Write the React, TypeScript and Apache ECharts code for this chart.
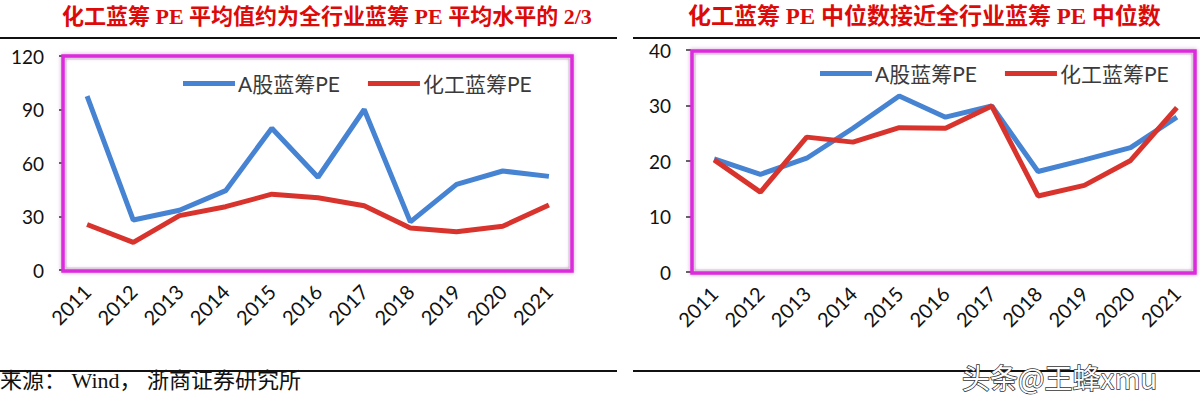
import React, { useEffect, useRef } from "react";
import * as echarts from "echarts";

const years = ["2011", "2012", "2013", "2014", "2015", "2016", "2017", "2018", "2019", "2020", "2021"];
const seriesNames = ["A股蓝筹PE", "化工蓝筹PE"];
// Left chart: average PE
const meanAShare = [97.5, 28, 33.5, 44.5, 79.5, 52, 90, 27, 48, 55.5, 52.5];
const meanChem = [25.5, 15.5, 30.5, 35.5, 42.5, 40.5, 36, 23.5, 21.5, 24.5, 36.5];
// Right chart: median PE
const medAShare = [20.4, 17.6, 20.5, 25.9, 31.7, 27.9, 29.9, 18.1, 20.2, 22.4, 27.9];
const medChem = [20.2, 14.4, 24.3, 23.4, 26.0, 25.9, 29.9, 13.7, 15.6, 20.1, 29.6];
const leftAxis = { min: 0, max: 120, interval: 30 };
const rightAxis = { min: 0, max: 40, interval: 10 };
const titles = [
  "化工蓝筹 PE 平均值约为全行业蓝筹 PE 平均水平的 2/3",
  "化工蓝筹 PE 中位数接近全行业蓝筹 PE 中位数",
];
const sourceText = "来源： Wind， 浙商证券研究所";
const watermark = "头条@王蜂xmu";

const BLUE = "#4683D3";
const RED = "#D8342D";
const MAGENTA = "#DC2ADC";
const LABEL_FONT = "Lato, 'Noto Sans CJK SC', sans-serif";

export default function App() {
  const ref = useRef<HTMLDivElement>(null);
  useEffect(() => {
    if (!ref.current) return;
    const chart = echarts.init(ref.current, null, { renderer: "svg" });
    const xAxisCommon = {
      type: "category",
      data: years,
      boundaryGap: true,
      axisLine: { show: false },
      axisTick: { show: false },
      axisLabel: { rotate: 45, margin: 18, fontSize: 20, color: "#111", fontFamily: LABEL_FONT },
      splitLine: { show: false },
    };
    const yAxisCommon = {
      type: "value",
      axisLine: { show: false },
      axisTick: { show: true, length: 5, lineStyle: { color: "#333", width: 1.5 } },
      axisLabel: { margin: 20, fontSize: 19, color: "#111", fontFamily: LABEL_FONT },
      splitLine: { show: false },
    };
    const legendCommon = {
      icon: "rect",
      itemWidth: 52,
      itemHeight: 5,
      itemGap: 28,
      padding: 0,
      textStyle: { fontSize: 21, color: "#3a3a3a", fontFamily: LABEL_FONT, padding: [0, 0, 0, -2] },
      data: seriesNames,
    };
    const lineSeries = (name: string, data: number[], idx: number, color: string) => ({
      type: "line",
      name,
      data,
      xAxisIndex: idx,
      yAxisIndex: idx,
      symbol: "none",
      lineStyle: { width: 5, color },
      itemStyle: { color },
      z: 3,
    });
    const sepLine = (x1: number, x2: number, y: number) => ({
      type: "line",
      shape: { x1, y1: y, x2, y2: y },
      style: { stroke: "#111", lineWidth: 2 },
    });
    const frame = (x: number, y: number, w: number, h: number) => [
      {
        type: "rect",
        shape: { x: x + 3, y: y + 3, width: w - 6, height: h - 6 },
        style: { fill: "none", stroke: "#d8d8d8", lineWidth: 1 },
        z: 1,
      },
      {
        type: "rect",
        shape: { x, y, width: w, height: h },
        style: {
          fill: "none",
          stroke: MAGENTA,
          lineWidth: 3.5,
          shadowBlur: 4,
          shadowColor: "rgba(120,0,120,0.35)",
        },
        z: 10,
      },
    ];
    chart.setOption({
      animation: false,
      backgroundColor: "#ffffff",
      grid: [
        { left: 64, top: 56, width: 508, height: 214 },
        { left: 691, top: 50, width: 520, height: 222 },
      ],
      xAxis: [
        { ...xAxisCommon, gridIndex: 0 },
        { ...xAxisCommon, gridIndex: 1 },
      ],
      yAxis: [
        { ...yAxisCommon, gridIndex: 0, ...leftAxis },
        { ...yAxisCommon, gridIndex: 1, ...rightAxis },
      ],
      legend: [
        { ...legendCommon, left: 183, top: 73 },
        { ...legendCommon, left: 820, top: 63 },
      ],
      series: [
        lineSeries(seriesNames[0], meanAShare, 0, BLUE),
        lineSeries(seriesNames[1], meanChem, 0, RED),
        lineSeries(seriesNames[0], medAShare, 1, BLUE),
        lineSeries(seriesNames[1], medChem, 1, RED),
      ],
      graphic: [
        {
          type: "text",
          left: 62,
          top: 5,
          style: {
            text: titles[0],
            fill: "#DD0A0A",
            font: "bold 22px 'Liberation Serif', 'Noto Sans CJK SC', serif",
          },
        },
        {
          type: "text",
          left: 688,
          top: 5,
          style: {
            text: titles[1],
            fill: "#DD0A0A",
            font: "bold 23px 'Liberation Serif', 'Noto Sans CJK SC', serif",
          },
        },
        sepLine(0, 617, 38),
        sepLine(633, 1200, 38),
        sepLine(0, 617, 371),
        sepLine(633, 1200, 371),
        ...frame(63, 56, 509, 215),
        ...frame(692, 51, 503, 222),
        {
          type: "text",
          left: 0,
          top: 369,
          style: {
            text: sourceText,
            fill: "#111",
            font: "22px 'Liberation Serif', 'Noto Sans CJK SC', serif",
          },
        },
        {
          type: "text",
          x: 962,
          y: 377,
          style: {
            text: watermark,
            fill: "#ffffff",
            stroke: "#333",
            lineWidth: 1.5,
            font: "28px 'Noto Sans CJK SC', sans-serif",
            textAlign: "left",
            textVerticalAlign: "middle",
          },
          z: 20,
        },
      ],
    });
    return () => chart.dispose();
  }, []);
  return (
    <div
      ref={ref}
      style={{ position: "absolute", left: 0, top: 0, width: 1200, height: 396 }}
    />
  );
}
